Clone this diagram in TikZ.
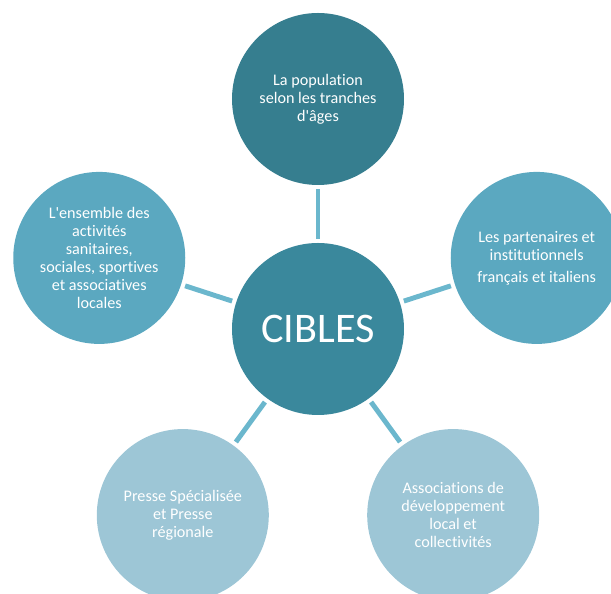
\documentclass[tikz,border=0pt]{standalone}
\usepackage{fontspec}
\setmainfont[RawFeature=-liga]{Carlito}
\usepackage{tikz}
\usetikzlibrary{shapes,arrows}
\definecolor{centreteal}{HTML}{3A889C}
\definecolor{darkteal}{HTML}{367E8F}
\definecolor{midblue}{HTML}{5BA8C0}
\definecolor{paleblue}{HTML}{9DC6D6}
\definecolor{linkblue}{HTML}{6BB7CD}
\tikzstyle{cible} = [circle, fill=midblue, text=white, minimum size=4.3cm,
    inner sep=1pt, align=center, font=\fontsize{11.5}{12.8}\selectfont]
\tikzstyle{line} = [draw, linkblue, line width=3.5pt, shorten >=0.1cm, shorten <=0.1cm]

\begin{document}
\begin{tikzpicture}
    \useasboundingbox (-7.95,-6.625) rectangle (7.325,8.225);
    % Place nodes
    \node [cible, fill=centreteal, font=\fontsize{30}{34}\selectfont] (cibles) at (0,0) {CIBLES};
    \node [cible, fill=darkteal] (population) at (90:5.75) {La population\\selon les tranches\\d\textquotesingle âges};
    \node [cible] (activites) at (162:5.75) {L\textquotesingle ensemble des\\activités\\sanitaires,\\sociales, sportives\\et associatives\\locales};
    \node [cible] (partenaires) at (18:5.75) {Les partenaires et\\institutionnels\\[3pt]français et italiens};
    \node [cible, fill=paleblue] (presse) at (234:5.75) {Presse Spécialisée\\et Presse\\régionale};
    \node [cible, fill=paleblue] (associations) at (306:5.75) {Associations de\\développement\\local et\\collectivités};
    % Draw edges
    \path [line] (cibles) -- (population);
    \path [line] (cibles) -- (activites);
    \path [line] (cibles) -- (partenaires);
    \path [line] (cibles) -- (presse);
    \path [line] (cibles) -- (associations);
\end{tikzpicture}
\end{document}
